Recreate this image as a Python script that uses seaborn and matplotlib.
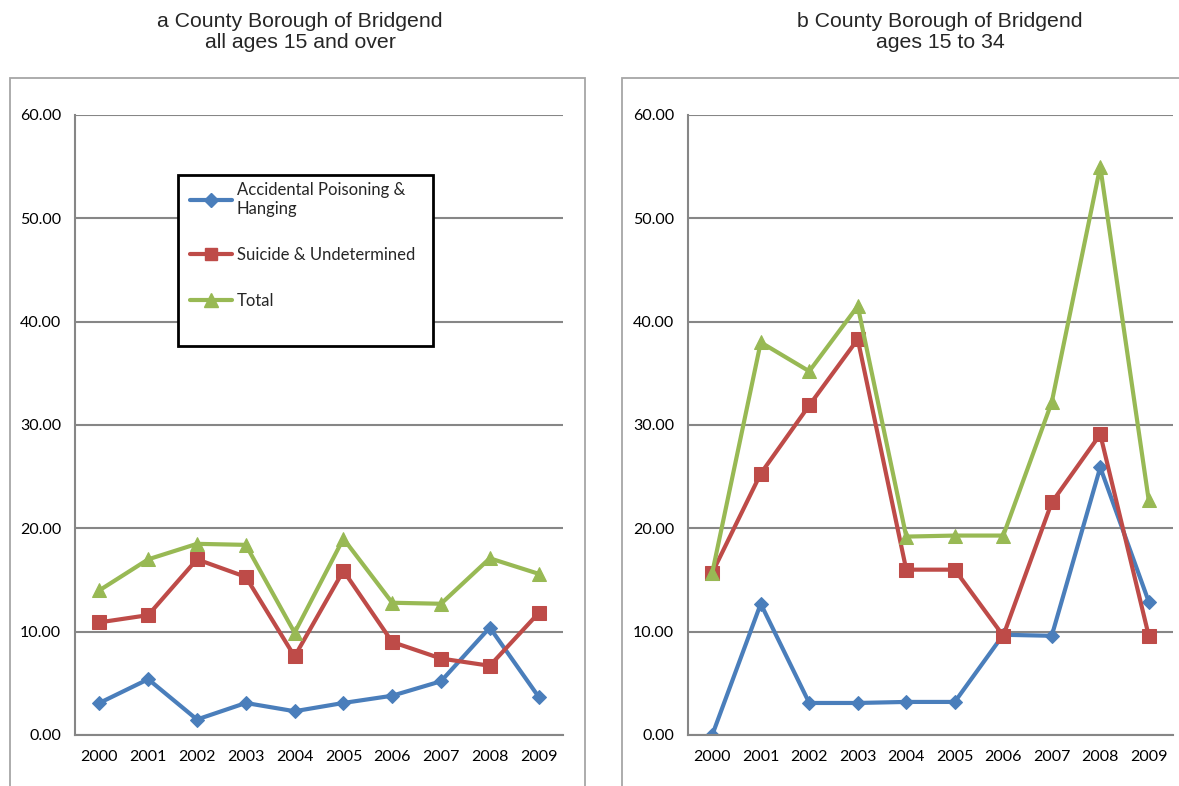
import matplotlib
matplotlib.use("Agg")
import matplotlib.pyplot as plt
import seaborn as sns
import pandas as pd
from matplotlib.lines import Line2D
from matplotlib.patches import Rectangle
from matplotlib.ticker import FuncFormatter, FixedLocator

years = ["2000", "2001", "2002", "2003", "2004", "2005", "2006", "2007", "2008", "2009"]
series_names = ["Accidental Poisoning & Hanging", "Suicide & Undetermined", "Total"]

# Panel a: all ages 15 and over
a_accidental = [3.1, 5.4, 1.5, 3.1, 2.3, 3.1, 3.8, 5.2, 10.4, 3.7]
a_suicide = [10.9, 11.6, 17.0, 15.3, 7.6, 15.9, 9.0, 7.4, 6.7, 11.8]
a_total = [14.0, 17.0, 18.5, 18.4, 9.9, 19.0, 12.8, 12.7, 17.1, 15.6]

# Panel b: ages 15 to 34
b_accidental = [0.0, 12.7, 3.1, 3.1, 3.2, 3.2, 9.7, 9.6, 25.9, 12.9]
b_suicide = [15.7, 25.3, 31.9, 38.3, 16.0, 16.0, 9.6, 22.5, 29.1, 9.6]
b_total = [15.7, 38.0, 35.2, 41.5, 19.2, 19.3, 19.3, 32.2, 55.0, 22.7]

titles = ["a County Borough of Bridgend\nall ages 15 and over",
          "b County Borough of Bridgend\nages 15 to 34"]
legend_labels = ["Accidental Poisoning &\nHanging", "Suicide & Undetermined", "Total"]

colors = ["#4a7ebb", "#be4b48", "#98b954"]
markers = ["D", "s", "^"]
msizes = [7.5, 9.5, 10.5]

sns.set_style("white")
plt.rcParams['font.family'] = ['Lato', 'DejaVu Sans']

W, H = 1179, 786
fig = plt.figure(figsize=(W / 100, H / 100), dpi=100)

# chart-area frames
fig.patches.append(Rectangle((10 / W, -0.05), 575 / W, 1.05 - 78 / H, transform=fig.transFigure,
                             fill=False, edgecolor="#a6a6a6", linewidth=1.3))
fig.patches.append(Rectangle((622 / W, -0.05), 0.6, 1.05 - 78 / H, transform=fig.transFigure,
                             fill=False, edgecolor="#a6a6a6", linewidth=1.3))

ax_a = fig.add_axes([75 / W, (H - 735) / H, 488 / W, 620 / H])
ax_b = fig.add_axes([688 / W, (H - 735) / H, 485 / W, 620 / H])

panels = [(ax_a, [a_accidental, a_suicide, a_total]), (ax_b, [b_accidental, b_suicide, b_total])]

for ax, vals in panels:
    for name, v, c, m, ms in zip(series_names, vals, colors, markers, msizes):
        df = pd.DataFrame({"pos": list(range(len(years))), "value": v})
        sns.lineplot(data=df, x="pos", y="value", ax=ax, color=c, linewidth=3,
                     marker=m, markersize=ms, markeredgecolor=c, legend=False)
    ax.set_xlim(-0.5, len(years) - 0.5)
    ax.set_ylim(0, 60)
    ax.set_yticks([0, 10, 20, 30, 40, 50, 60])
    ax.yaxis.set_major_formatter(FuncFormatter(lambda y, p: f"{y:.2f}"))
    ax.set_xticks(range(len(years)))
    ax.set_xticklabels(years)
    ax.xaxis.set_minor_locator(FixedLocator([i - 0.5 for i in range(len(years) + 1)]))
    ax.tick_params(axis="x", which="major", length=0, pad=11, labelsize=11.5, colors="#000000")
    ax.tick_params(axis="x", which="minor", length=6, width=1.5, color="#868686", direction="out")
    ax.tick_params(axis="y", which="major", length=6, width=1.5, color="#868686", direction="out",
                   labelsize=11.5, pad=4, labelcolor="#000000")
    ax.grid(axis="y", color="#868686", linewidth=1.5)
    ax.set_axisbelow(True)
    for s in ["top", "right"]:
        ax.spines[s].set_visible(False)
    for s in ["left", "bottom"]:
        ax.spines[s].set_color("#868686")
        ax.spines[s].set_linewidth(1.5)
    ax.set_xlabel("")
    ax.set_ylabel("")

fig.text(300 / W, 1 - 12 / H, titles[0], ha="center", va="top", fontsize=15.3,
         family=["Liberation Sans", "DejaVu Sans"], linespacing=1.15)
fig.text(940 / W, 1 - 12 / H, titles[1], ha="center", va="top", fontsize=15.3,
         family=["Liberation Sans", "DejaVu Sans"], linespacing=1.15)

# legend box
ax_a.add_patch(Rectangle((103 / 488, (735 - 346) / 620), 255 / 488, 171 / 620,
                         transform=ax_a.transAxes, facecolor="white", edgecolor="black",
                         linewidth=2, zorder=5))
handles = [Line2D([0], [0], color=c, linewidth=3, marker=m, markersize=ms * 0.9, markeredgecolor=c)
           for c, m, ms in zip(colors, markers, msizes)]
leg = ax_a.legend(handles, legend_labels, loc="upper left",
                  bbox_to_anchor=((190 - 75) / 488, (735 - 182) / 620),
                  frameon=False, fontsize=12, labelspacing=1.8, handlelength=2.5,
                  handletextpad=0.3, borderpad=0, borderaxespad=0)
leg.set_zorder(6)

fig.savefig("out.png", dpi=100)
